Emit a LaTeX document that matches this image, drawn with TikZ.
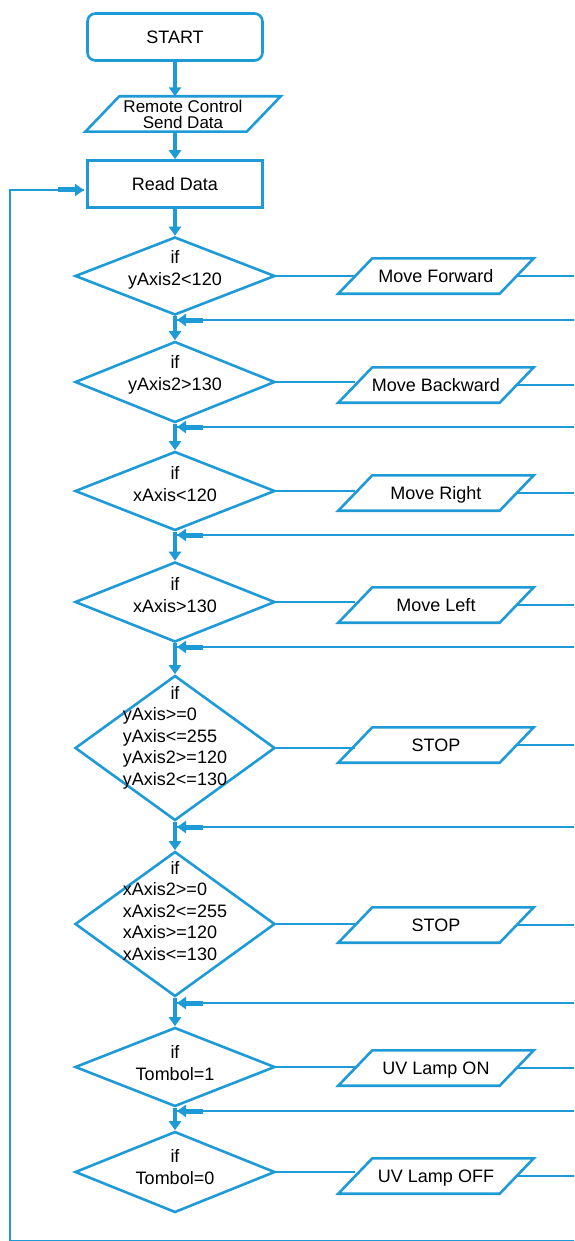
\documentclass[tikz,border=0pt]{standalone}
\usepackage{fontspec}
\setmainfont{Liberation Sans}
\usetikzlibrary{arrows.meta,shapes.geometric}

\definecolor{flowblue}{RGB}{30,155,215}

\tikzset{
  box/.style={draw=flowblue, line width=2.6pt, minimum width=175pt, minimum height=47pt, inner sep=0pt},
  iobase/.style={minimum width=161pt, minimum height=35pt, inner sep=0pt, align=center},
  io/.style={iobase, text height=15pt, text depth=2pt},
  frame/.style={draw=flowblue, line width=2.6pt, line join=miter},
  dec/.style={diamond, draw=flowblue, line width=2.6pt, minimum width=200pt, minimum height=#1, inner sep=0pt},
  line/.style={draw=flowblue, line width=2.6pt},
  down/.style={draw=flowblue, line width=4pt, -{Triangle[length=9pt,width=12pt]}},
  stub/.style={draw=flowblue, line width=5pt, -{Triangle[length=9pt,width=12pt]}},
}

\begin{document}
\begin{tikzpicture}[x=1pt, y=-1pt, font=\fontsize{18}{21.5}\selectfont]
\clip (0,0) rectangle (574,1241);

% Start, input and read
\node[box, rounded corners=8pt] (start) at (175,37) {START};
\node[iobase, font=\fontsize{17}{16}\selectfont] (remote) at (183,114) {Remote Control\\Send Data};
\node[box] (read) at (175,184) {Read Data};

% Decisions
\node[dec=78pt, label={[yshift=6pt, align=center]center:if\\yAxis2<120}] (d1) at (175,276) {};
\node[dec=81pt, label={[yshift=7pt, align=center]center:if\\yAxis2>130}] (d2) at (175,382) {};
\node[dec=79pt, label={[yshift=7pt, align=center]center:if\\xAxis<120}] (d3) at (175,491) {};
\node[dec=80pt, label={[yshift=7pt, align=center]center:if\\xAxis>130}] (d4) at (175,602) {};
\node[dec=145pt, label={[yshift=10pt]center:\begin{tabular}{@{}l@{}}\multicolumn{1}{@{}c@{}}{if}\\yAxis>=0\\yAxis<=255\\yAxis2>=120\\yAxis2<=130\end{tabular}}] (d5) at (175,748) {};
\node[dec=145pt, label={[yshift=11pt]center:\begin{tabular}{@{}l@{}}\multicolumn{1}{@{}c@{}}{if}\\xAxis2>=0\\xAxis2<=255\\xAxis>=120\\xAxis<=130\end{tabular}}] (d6) at (175,924) {};
\node[dec=79pt, label={[yshift=4pt, align=center]center:if\\Tombol=1}] (d7) at (175,1067) {};
\node[dec=81pt, label={[yshift=5pt, align=center]center:if\\Tombol=0}] (d8) at (175,1172) {};

% Outputs
\node[io] (p1) at (436,276) {Move Forward};
\node[io] (p2) at (436,385) {Move Backward};
\node[io] (p3) at (436,493) {Move Right};
\node[io] (p4) at (436,605) {Move Left};
\node[io] (p5) at (436,745) {STOP};
\node[io] (p6) at (436,925) {STOP};
\node[io] (p7) at (436,1068) {UV Lamp ON};
\node[io] (p8) at (436,1176) {UV Lamp OFF};

% Parallelogram frames
\foreach \n in {remote,p1,p2,p3,p4,p5,p6,p7,p8}
  \draw[frame] ([xshift=17pt]\n.north west) -- ([xshift=17pt]\n.north east)
    -- ([xshift=-17pt]\n.south east) -- ([xshift=-17pt]\n.south west) -- cycle;

% Return points
\coordinate (j1) at (177,320);  \coordinate (r1) at (577,320);
\coordinate (j2) at (177,427);  \coordinate (r2) at (577,427);
\coordinate (j3) at (177,535);  \coordinate (r3) at (577,535);
\coordinate (j4) at (177,647);  \coordinate (r4) at (577,647);
\coordinate (j5) at (177,827);  \coordinate (r5) at (577,827);
\coordinate (j6) at (177,1003); \coordinate (r6) at (577,1003);
\coordinate (j7) at (177,1111); \coordinate (r7) at (577,1111);
\coordinate (r8) at (577,1241);
\coordinate (bl) at (10,1241);
\coordinate (loopin) at (84,190);

% Main line
\draw[down] (start.south) -- (start.south |- remote.north);
\draw[down] (read.north |- remote.south) -- (read.north);
\draw[down] (read.south) -- (d1.north);
\foreach \a/\b in {d1/d2,d2/d3,d3/d4,d4/d5,d5/d6,d6/d7,d7/d8}
  \draw[down] (\a.south) -- (\b.north);

% Yes branches
\foreach \i in {1,...,8}
  \draw[line] (d\i.east) -- (d\i.east -| p\i.west);

% Back to the main line
\foreach \i in {1,...,7} {
  \draw[line] (p\i.east) -| (r\i) -- (j\i);
  \draw[stub] ([xshift=26pt]j\i) -- (j\i);
}

% Loop to Read Data
\draw[line] (p8.east) -| (r8) -- (bl) |- (loopin);
\draw[stub] ([xshift=-26pt]loopin) -- (loopin);

\end{tikzpicture}
\end{document}
